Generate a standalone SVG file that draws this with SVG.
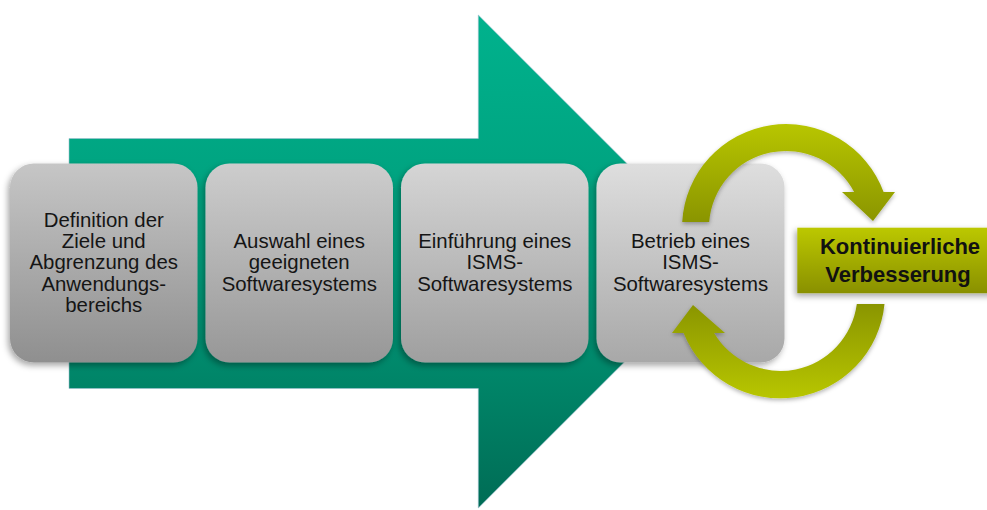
<svg xmlns="http://www.w3.org/2000/svg" width="987" height="510" viewBox="0 0 987 510">
<style>
.step text{font-family:"Liberation Sans",Arial,sans-serif;font-size:20.4px;fill:#151515;text-anchor:middle}
.kv text{font-family:"Liberation Sans",Arial,sans-serif;font-size:22px;font-weight:bold;fill:#111;text-anchor:middle}
</style>
<defs>
<linearGradient id="gArrow" gradientUnits="userSpaceOnUse" x1="0" y1="15" x2="0" y2="508">
<stop offset="0" stop-color="#00b28d"/>
<stop offset="0.5" stop-color="#009c7a"/>
<stop offset="1" stop-color="#006c55"/>
</linearGradient>
<linearGradient id="gB1" x1="0" y1="0" x2="0" y2="1"><stop offset="0" stop-color="#c6c6c6"/><stop offset="1" stop-color="#8f8f8f"/></linearGradient>
<linearGradient id="gB2" x1="0" y1="0" x2="0" y2="1"><stop offset="0" stop-color="#cdcdcd"/><stop offset="1" stop-color="#979797"/></linearGradient>
<linearGradient id="gB3" x1="0" y1="0" x2="0" y2="1"><stop offset="0" stop-color="#d5d5d5"/><stop offset="1" stop-color="#9f9f9f"/></linearGradient>
<linearGradient id="gB4" x1="0" y1="0" x2="0" y2="1"><stop offset="0" stop-color="#dedede"/><stop offset="1" stop-color="#a8a8a8"/></linearGradient>
<linearGradient id="gUp" x1="0" y1="0" x2="0" y2="1"><stop offset="0" stop-color="#b8c600"/><stop offset="1" stop-color="#8a9500"/></linearGradient>
<linearGradient id="gDown" x1="0" y1="0" x2="0" y2="1"><stop offset="0" stop-color="#8a9500"/><stop offset="1" stop-color="#b8c600"/></linearGradient>
<linearGradient id="gKV" x1="0" y1="0" x2="0" y2="1"><stop offset="0" stop-color="#bcc800"/><stop offset="1" stop-color="#899000"/></linearGradient>
<filter id="sh" x="-20%" y="-20%" width="140%" height="140%">
<feDropShadow dx="-2" dy="3" stdDeviation="3" flood-color="#000" flood-opacity="0.35"/>
</filter>
<filter id="shA" x="-20%" y="-20%" width="140%" height="140%">
<feDropShadow dx="0" dy="2" stdDeviation="2" flood-color="#000" flood-opacity="0.3"/>
</filter>
</defs>
<rect width="987" height="510" fill="#fff"/>
<g id="main-arrow">
<path d="M69,138.5 L478.3,138.5 L478.3,15 L725,261.5 L478.3,508 L478.3,388.5 L69,388.5 Z" fill="url(#gArrow)" stroke="#9fbfd0" stroke-opacity="0.6" stroke-width="1"/>
</g>
<g id="step1" class="step">
<rect x="10" y="163.5" width="187.5" height="199" rx="24" fill="url(#gB1)" filter="url(#sh)"/>
<text x="103.75" y="227">Definition der</text>
<text x="103.75" y="248.2">Ziele und</text>
<text x="103.75" y="269.4">Abgrenzung des</text>
<text x="103.75" y="290.6">Anwendungs-</text>
<text x="103.75" y="311.8">bereichs</text>
</g>
<g id="step2" class="step">
<rect x="205.5" y="163.5" width="187.5" height="199" rx="24" fill="url(#gB2)" filter="url(#sh)"/>
<text x="299.25" y="248.2">Auswahl eines</text>
<text x="299.25" y="269.4">geeigneten</text>
<text x="299.25" y="290.6">Softwaresystems</text>
</g>
<g id="step3" class="step">
<rect x="401" y="163.5" width="187.5" height="199" rx="24" fill="url(#gB3)" filter="url(#sh)"/>
<text x="494.75" y="248.2">Einführung eines</text>
<text x="494.75" y="269.4">ISMS-</text>
<text x="494.75" y="290.6">Softwaresystems</text>
</g>
<g id="step4" class="step">
<rect x="596.5" y="163.5" width="188" height="199" rx="24" fill="url(#gB4)" filter="url(#sh)"/>
<text x="690.5" y="248.2">Betrieb eines</text>
<text x="690.5" y="269.4">ISMS-</text>
<text x="690.5" y="290.6">Softwaresystems</text>
</g>
<g id="connectors">
<path d="M682.2,222 A104,104 0 0 1 883.6,192 L895,192 L873,221 L842,192 L854.1,192 A77,77 0 0 0 709.2,222 Z" fill="url(#gUp)" filter="url(#shA)"/>
<path d="M884.5,304 A104.5,104.5 0 0 1 683.6,333 L672,333 L693,305 L725,333 L714.1,333 A77,77 0 0 0 856.8,304 Z" fill="url(#gDown)" filter="url(#shA)"/>
</g>
<g id="improvement" class="kv">
<rect x="797.3" y="227.7" width="206" height="65.5" fill="url(#gKV)" filter="url(#sh)"/>
<text x="900" y="254.3">Kontinuierliche</text>
<text x="898" y="281.7">Verbesserung</text>
</g>
</svg>
